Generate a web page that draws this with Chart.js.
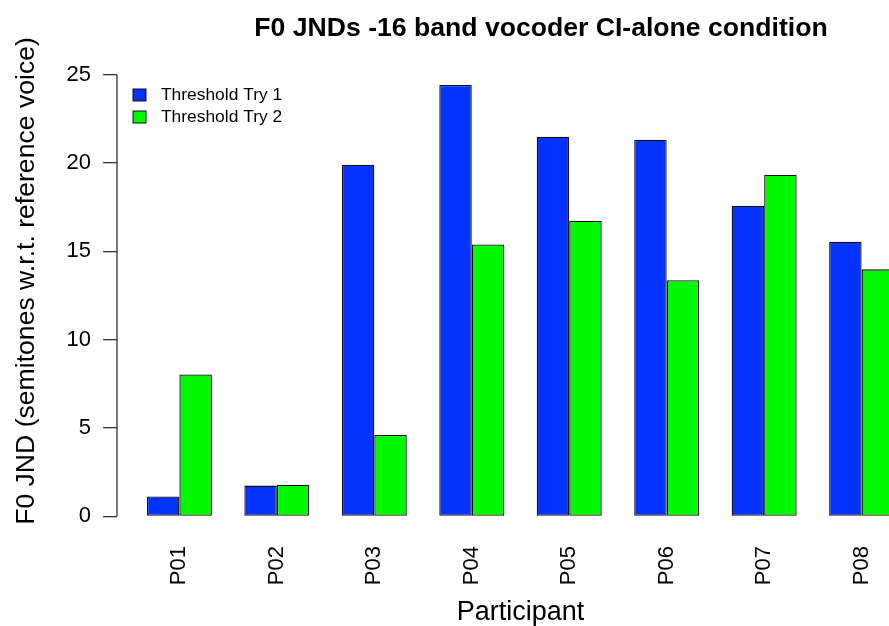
<!DOCTYPE html>
<html>
<head>
<meta charset="utf-8">
<script src="https://cdn.jsdelivr.net/npm/chart.js@4/dist/chart.umd.min.js"></script>
<style>
  html, body { margin: 0; padding: 0; background: #fff; overflow: hidden; }
  #wrap { position: absolute; left: 0; top: 0; width: 930px; height: 626px; }
</style>
</head>
<body>
<div id="wrap"><canvas id="chart" width="930" height="626"></canvas></div>
<script>
// Données
const participants = ['P01', 'P02', 'P03', 'P04', 'P05', 'P06', 'P07', 'P08'];
const try1 = [1.12, 1.74, 19.9, 24.42, 21.49, 21.32, 17.58, 15.54];
const try2 = [8.03, 1.79, 4.61, 15.39, 16.73, 13.37, 19.34, 13.98];
const seriesNames = ['Threshold Try 1', 'Threshold Try 2'];
const yTicks = [0, 5, 10, 15, 20, 25];

const titre = 'F0 JNDs -16 band vocoder CI-alone condition';
const titreY = 'F0 JND (semitones w.r.t. reference voice)';
const police = '"Liberation Sans", Arial, Helvetica, sans-serif';
const couleurs = ['#0433FF', '#00F900'];

// position de chaque groupe comme dans barplot() de R (espace 1, barres de largeur 1)
const pos = i => 3 * i + 2;

// Titre, titre y, axe y et légende dessinés à la manière de R
const dessinR = {
    id: 'dessinR',
    afterDraw(chart) {
        const ctx = chart.ctx;
        const y = chart.scales.y;
        const left = chart.chartArea.left;
        ctx.save();

        // ligne de l'axe y de 0 à 25
        ctx.strokeStyle = '#333';
        ctx.lineWidth = 1.3;
        ctx.beginPath();
        ctx.moveTo(left, y.getPixelForValue(yTicks[0]));
        ctx.lineTo(left, y.getPixelForValue(yTicks[yTicks.length - 1]));
        ctx.stroke();

        // titre
        ctx.fillStyle = '#000';
        ctx.font = 'bold 26.6px ' + police;
        ctx.textAlign = 'center';
        ctx.textBaseline = 'alphabetic';
        ctx.fillText(titre, 541, 36);

        // titre de l'axe y
        ctx.save();
        ctx.translate(34, 281);
        ctx.rotate(-Math.PI / 2);
        ctx.font = '26.6px ' + police;
        ctx.fillText(titreY, 0, 0);
        ctx.restore();

        // légende
        ctx.font = '17.4px ' + police;
        ctx.textAlign = 'left';
        ctx.textBaseline = 'middle';
        chart.data.datasets.forEach((ds, i) => {
            const yy = 95 + i * 22;
            ctx.fillStyle = ds.backgroundColor;
            ctx.fillRect(133, yy - 6, 13, 12);
            ctx.strokeStyle = '#111';
            ctx.lineWidth = 1;
            ctx.strokeRect(133, yy - 6, 13, 12);
            ctx.fillStyle = '#000';
            ctx.fillText(ds.label, 161, yy);
        });
        ctx.restore();
    }
};

new Chart(document.getElementById('chart'), {
    type: 'bar',
    data: {
        datasets: [
            {
                label: seriesNames[0],
                data: try1.map((v, i) => ({ x: pos(i), y: v })),
                backgroundColor: couleurs[0],
                borderColor: '#111',
                borderWidth: 1.3,
                borderSkipped: false
            },
            {
                label: seriesNames[1],
                data: try2.map((v, i) => ({ x: pos(i), y: v })),
                backgroundColor: couleurs[1],
                borderColor: '#111',
                borderWidth: 1.3,
                borderSkipped: false
            }
        ]
    },
    options: {
        responsive: false,
        animation: false,
        devicePixelRatio: 1,
        categoryPercentage: 2 / 3,
        barPercentage: 1,
        layout: { padding: { top: 57, right: 6, left: 0, bottom: 0 } },
        plugins: {
            legend: { display: false },
            title: { display: false },
            tooltip: { enabled: false }
        },
        scales: {
            x: {
                type: 'linear',
                offset: false,
                min: 0.08,
                max: 24.92,
                afterBuildTicks: s => { s.ticks = participants.map((p, i) => ({ value: pos(i) })); },
                afterFit: s => { s.height = 92; },
                grid: { display: false, drawTicks: false, offset: false },
                border: { display: false },
                ticks: {
                    autoSkip: false,
                    minRotation: 90,
                    maxRotation: 90,
                    padding: 12,
                    color: '#000',
                    font: { family: police, size: 22 },
                    callback: v => participants[(v - 2) / 3]
                },
                title: {
                    display: true,
                    text: 'Participant',
                    color: '#000',
                    font: { family: police, size: 27 },
                    padding: { top: 0, bottom: -3 }
                }
            },
            y: {
                min: -1,
                max: 26,
                afterBuildTicks: s => { s.ticks = yTicks.map(v => ({ value: v })); },
                afterFit: s => { s.width = 117; },
                grid: { drawOnChartArea: false, drawTicks: true, tickLength: 14, color: '#333', lineWidth: 1.3 },
                border: { display: false },
                ticks: {
                    padding: 12,
                    color: '#000',
                    font: { family: police, size: 22 }
                },
                title: { display: false }
            }
        }
    },
    plugins: [dessinR]
});
</script>
</body>
</html>
